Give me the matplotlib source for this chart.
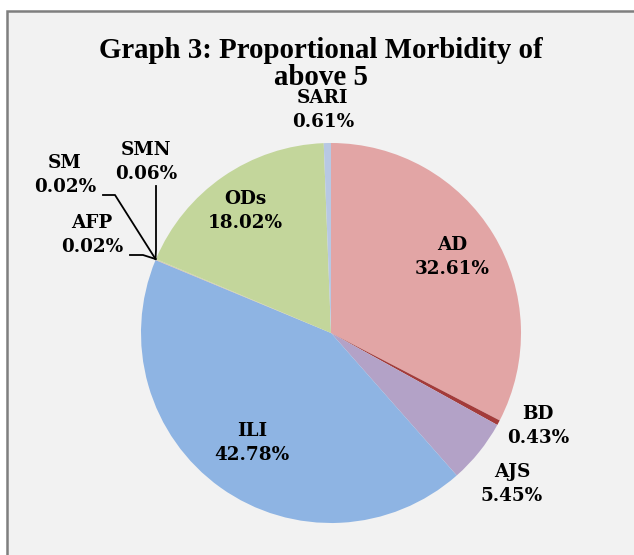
import matplotlib
matplotlib.use("Agg")
import matplotlib.pyplot as plt
from matplotlib.patches import Rectangle

# ---- data ----
categories = ["AD", "BD", "AJS", "ILI", "AFP", "SM", "SMN", "ODs", "SARI"]
values = [32.61, 0.43, 5.45, 42.78, 0.02, 0.02, 0.06, 18.02, 0.61]
colors = ["#E2A5A5", "#A33B3A", "#B3A2C7", "#8EB4E3", "#E2A5A5", "#E2A5A5",
          "#C3D69B", "#C3D69B", "#B7C8E3"]
title = "Graph 3: Proportional Morbidity of\nabove 5"

# label anchor positions in pixel space (layout)
label_pos = {
    "AD": (452, 257), "BD": (538, 426), "AJS": (512, 484), "ILI": (252, 443),
    "AFP": (92, 235), "SM": (65, 175), "SMN": (146, 162), "ODs": (245, 211),
    "SARI": (323, 110),
}

W, H = 634, 555
fig = plt.figure(figsize=(W / 100, H / 100), dpi=100)
fig.patch.set_facecolor("white")
ax = fig.add_axes([0, 0, 1, 1])

ax.add_patch(Rectangle((7, -5), W, H - 11 + 5, facecolor="#F2F2F2",
                       edgecolor="#7F7F7F", linewidth=1.8, zorder=0))

cx, cy, r = 331, H - 333, 190
ax.pie(values, colors=colors, startangle=90, counterclock=False,
       center=(cx, cy), radius=r, frame=True,
       wedgeprops=dict(linewidth=0))
ax.set_xlim(0, W)
ax.set_ylim(0, H)
ax.set_aspect("equal")
ax.axis("off")

tfont = dict(family=["Liberation Serif", "DejaVu Serif"], fontweight="bold")
lfont = dict(family=["DejaVu Serif"], fontweight="bold")
ax.text(W / 2 + 4, H - 64, title, ha="center", va="center", fontsize=20.8,
        linespacing=1.0, **tfont)

for cat, v in zip(categories, values):
    x, y = label_pos[cat]
    ax.text(x, H - y, f"{cat}\n{v:.2f}%", ha="center", va="center",
            fontsize=13.2, linespacing=1.42, **lfont)

# leader lines
edge = (155.5, H - 259)
ax.plot([156, 156, edge[0]], [H - 186, H - 250, edge[1]], color="black", lw=1.3)
ax.plot([103, 115, edge[0]], [H - 195, H - 195, edge[1]], color="black", lw=1.3)
ax.plot([130, 143, edge[0]], [H - 255, H - 255, edge[1]], color="black", lw=1.3)

fig.savefig("out.png", dpi=100, facecolor=fig.get_facecolor())
